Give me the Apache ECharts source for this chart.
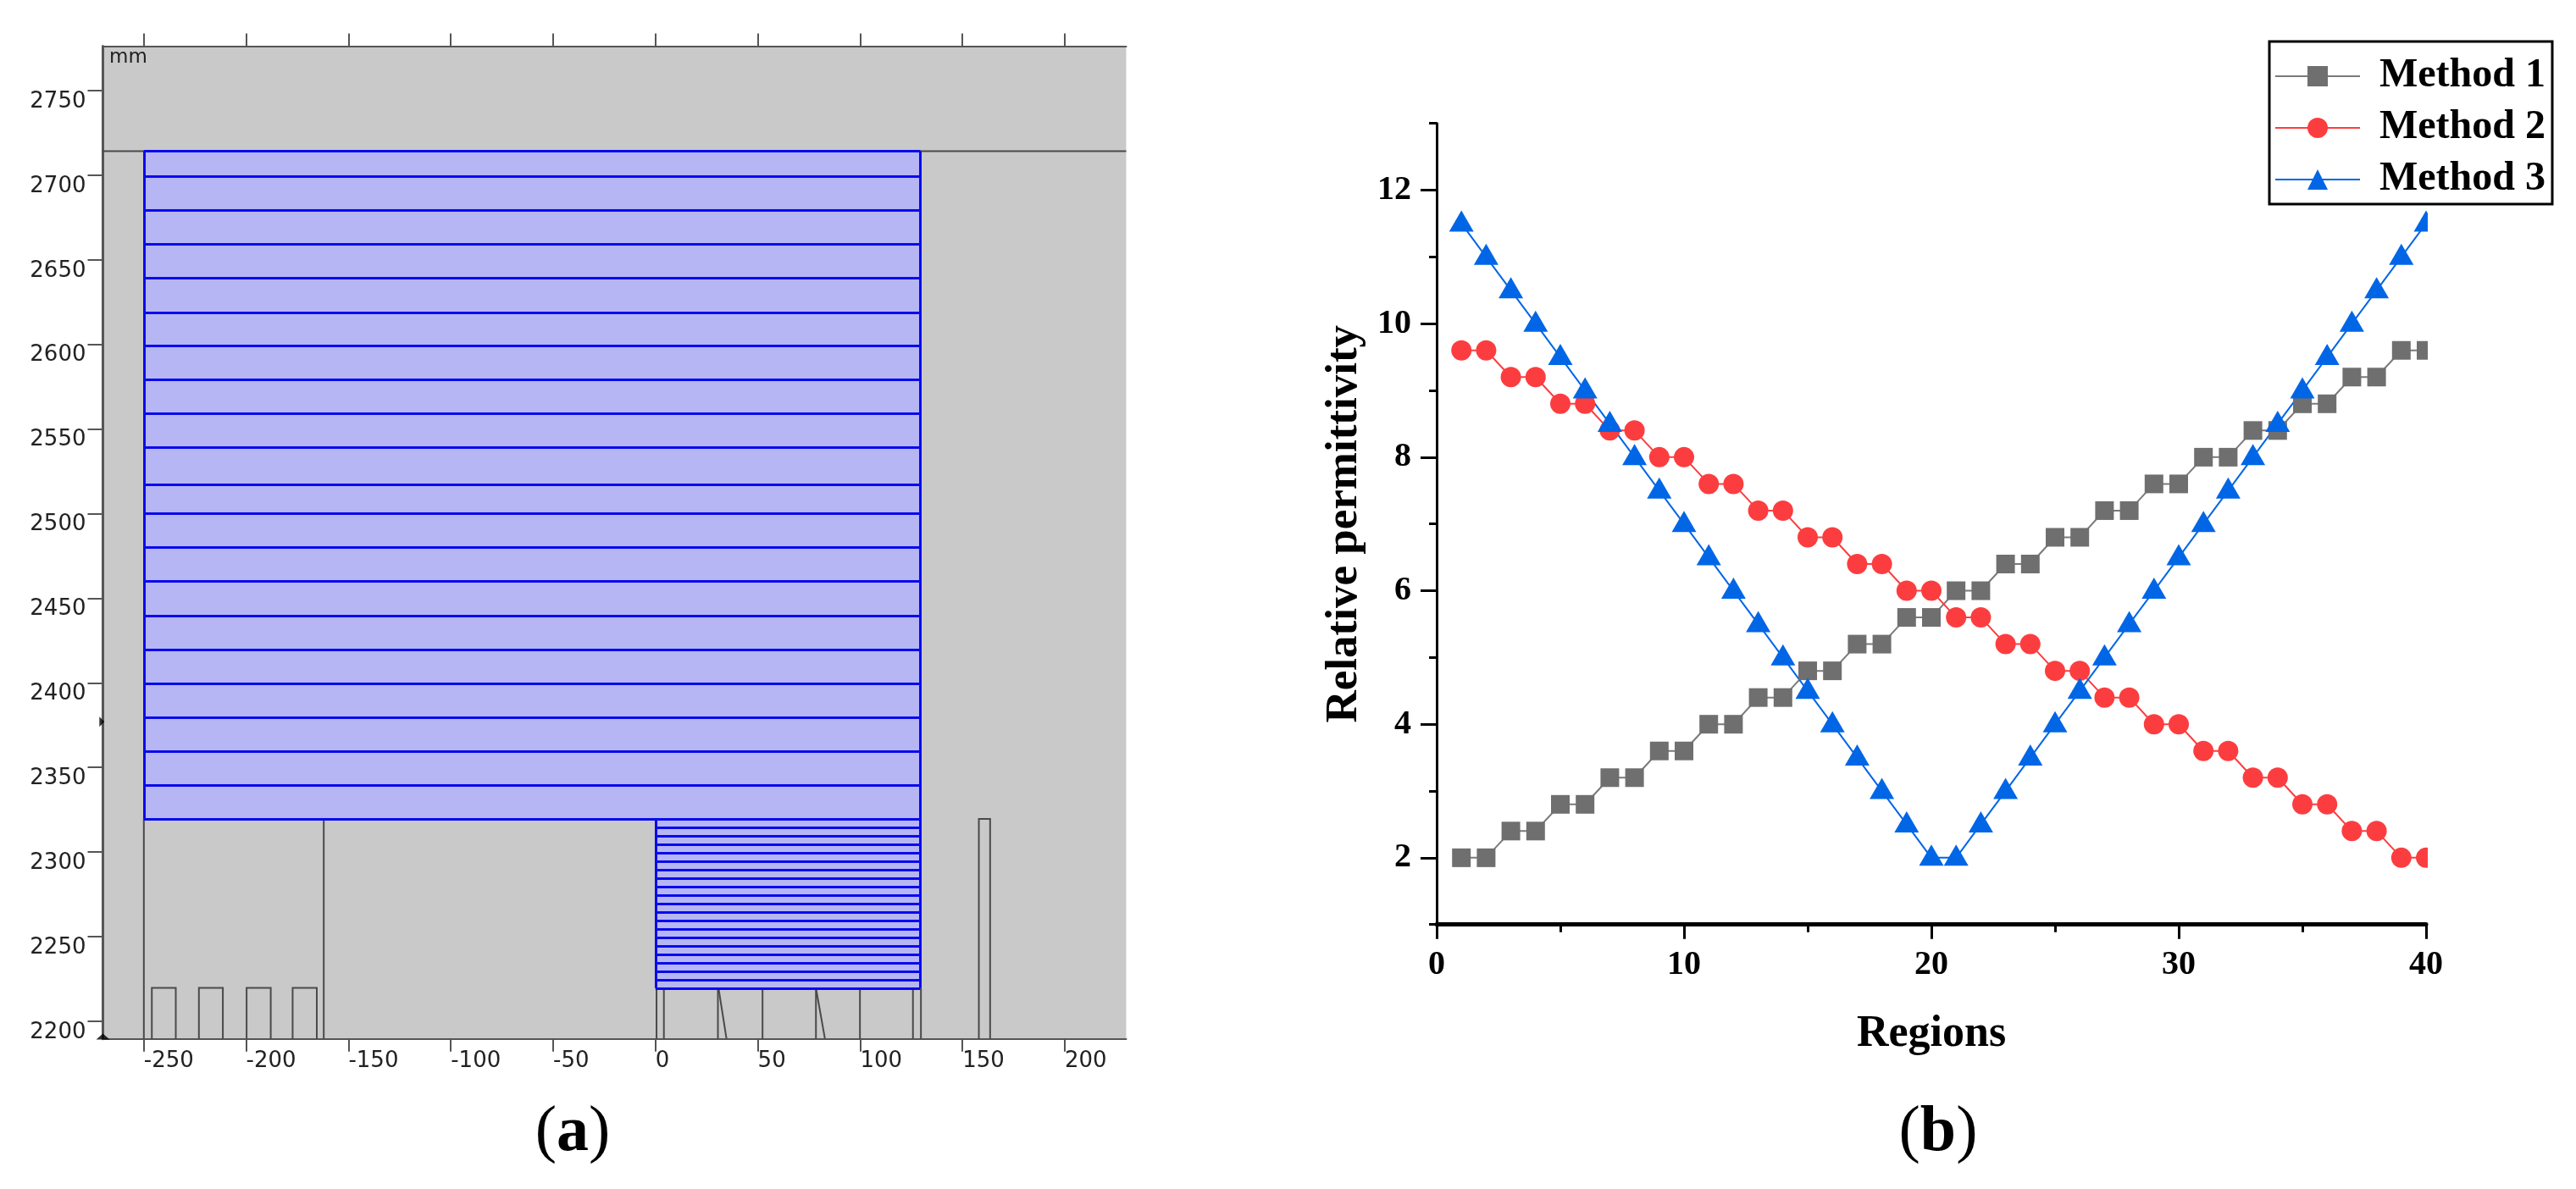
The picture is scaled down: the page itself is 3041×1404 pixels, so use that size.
<!DOCTYPE html>
<html>
<head>
    <meta charset="UTF-8">
    <script src="https://cdn.jsdelivr.net/npm/echarts@6/dist/echarts.min.js"></script>
    <style>
        html, body { margin: 0; padding: 0; background: #fff; }
        #main { width: 3041px; height: 1404px; }
    </style>
</head>
<body>
<div id="main"></div>
<script type="text/javascript">
    // panel (a): geometry in mm
    var geoXTicks = [-250, -200, -150, -100, -50, 0, 50, 100, 150, 200];
    var geoYTicks = [2200, 2250, 2300, 2350, 2400, 2450, 2500, 2550, 2600, 2650, 2700, 2750];
    var upperLayerY = [2714.2, 2699.5, 2679.4, 2659.3, 2639.1, 2619, 2599.2, 2579.2, 2559, 2539, 2517.2,
        2500.2, 2480.1, 2460, 2439.7, 2419.5, 2399.5, 2379.5, 2359.6, 2339.6, 2319.5];
    var lowerLayerY = [2319.6, 2314.6, 2309.6, 2304.5, 2299.5, 2294.5, 2289.5, 2284.6, 2279.6, 2274.5, 2269.5,
        2264.5, 2259.6, 2254.6, 2249.6, 2244.5, 2239.5, 2234.5, 2229.5, 2224.5, 2219.6];
    var blueRegions = [
        [-250, 2714.2, 129.4, 2319.6],
        [0, 2319.6, 129.4, 2219.6]
    ];
    var blueVerticals = [
        [[-250, 2714.2], [-250, 2319.6]],
        [[129.4, 2714.2], [129.4, 2219.6]],
        [[0.3, 2319.6], [0.3, 2219.6]]
    ];
    var outlineSegments = [
        [[-270, 2714.2], [230, 2714.2]],
        [[-250, 2319.6], [-250, 2189.6]],
        [[-162.1, 2319.6], [-162.1, 2189.6]],
        [[-246.1, 2189.6], [-246.1, 2219.7], [-234.4, 2219.7], [-234.4, 2189.6]],
        [[-223.1, 2189.6], [-223.1, 2219.7], [-211.4, 2219.7], [-211.4, 2189.6]],
        [[-199.8, 2189.6], [-199.8, 2219.7], [-188, 2219.7], [-188, 2189.6]],
        [[-177.3, 2189.6], [-177.3, 2219.7], [-165.5, 2219.7], [-165.5, 2189.6]],
        [[0.5, 2219.6], [0.5, 2189.6]],
        [[4.1, 2219.6], [4.1, 2189.6]],
        [[30.5, 2219.6], [30.5, 2189.6]],
        [[30.8, 2219.6], [34.7, 2189.6]],
        [[52.3, 2219.6], [52.3, 2189.6]],
        [[78.4, 2219.6], [78.4, 2189.6]],
        [[78.4, 2219.6], [82.8, 2189.6]],
        [[99.9, 2219.6], [99.9, 2189.6]],
        [[125.8, 2219.6], [125.8, 2189.6]],
        [[129.7, 2219.6], [129.7, 2189.6]],
        [[158, 2189.6], [158, 2319.6], [163.5, 2319.6], [163.5, 2189.6]]
    ];
    var axisArrowUp = [[-270, 2191]];
    var axisArrowRight = [[-270.5, 2377]];

    // panel (b): permittivity per region
    var regions = [1, 2, 3, 4, 5, 6, 7, 8, 9, 10, 11, 12, 13, 14, 15, 16, 17, 18, 19, 20,
        21, 22, 23, 24, 25, 26, 27, 28, 29, 30, 31, 32, 33, 34, 35, 36, 37, 38, 39, 40];
    var method1 = [2, 2, 2.4, 2.4, 2.8, 2.8, 3.2, 3.2, 3.6, 3.6, 4, 4, 4.4, 4.4, 4.8, 4.8, 5.2, 5.2, 5.6, 5.6,
        6, 6, 6.4, 6.4, 6.8, 6.8, 7.2, 7.2, 7.6, 7.6, 8, 8, 8.4, 8.4, 8.8, 8.8, 9.2, 9.2, 9.6, 9.6];
    var method2 = [9.6, 9.6, 9.2, 9.2, 8.8, 8.8, 8.4, 8.4, 8, 8, 7.6, 7.6, 7.2, 7.2, 6.8, 6.8, 6.4, 6.4, 6, 6,
        5.6, 5.6, 5.2, 5.2, 4.8, 4.8, 4.4, 4.4, 4, 4, 3.6, 3.6, 3.2, 3.2, 2.8, 2.8, 2.4, 2.4, 2, 2];
    var method3 = [11.5, 11, 10.5, 10, 9.5, 9, 8.5, 8, 7.5, 7, 6.5, 6, 5.5, 5, 4.5, 4, 3.5, 3, 2.5, 2,
        2, 2.5, 3, 3.5, 4, 4.5, 5, 5.5, 6, 6.5, 7, 7.5, 8, 8.5, 9, 9.5, 10, 10.5, 11, 11.5];
    var yMajorTicks = [2, 4, 6, 8, 10, 12];
    var yMinorTicks = [1, 3, 5, 7, 9, 11, 13];

    function zip(ys) {
        return regions.map(function (r, i) { return [r, ys[i]]; });
    }

    function segmentsOf(ys, x0, x1) {
        return ys.map(function (y) { return {coords: [[x0, y], [x1, y]]}; });
    }

    function asLines(list) {
        return list.map(function (pts) { return {coords: pts}; });
    }

    function renderRegion(params, api) {
        var a = api.coord([api.value(0), api.value(1)]);
        var b = api.coord([api.value(2), api.value(3)]);
        return {
            type: 'rect',
            shape: {x: a[0], y: a[1], width: b[0] - a[0], height: b[1] - a[1]},
            style: {fill: '#b6b6f4'}
        };
    }

    var geoLine = '#4a4a4a';
    var geoBlue = '#0a0aee';
    var geoFont = 'DejaVu Sans';
    var plotFont = 'Liberation Serif';

    var myChart = echarts.init(document.getElementById('main'), null, {renderer: 'canvas'});

    var option = {
        animation: false,
        backgroundColor: '#fff',
        grid: [
            {left: 121.5, top: 54.5, width: 1208, height: 1172.2, show: true, backgroundColor: '#c9c9c9', borderWidth: 0},
            {left: 1696, top: 145.7, width: 1168, height: 946, show: false}
        ],
        xAxis: [
            {
                gridIndex: 0, type: 'value', position: 'bottom', min: -270, max: 230,
                splitLine: {show: false},
                axisLine: {onZero: false, lineStyle: {color: '#555', width: 2}},
                axisTick: {customValues: geoXTicks, length: 15, lineStyle: {color: '#555', width: 2}},
                axisLabel: {
                    customValues: geoXTicks, align: 'left', margin: 14, hideOverlap: false,
                    fontFamily: geoFont, fontSize: 26, color: '#222'
                }
            },
            {
                gridIndex: 0, type: 'value', position: 'top', min: -270, max: 230,
                splitLine: {show: false},
                axisLine: {onZero: false, lineStyle: {color: '#555', width: 2}},
                axisTick: {customValues: geoXTicks, length: 15, lineStyle: {color: '#555', width: 2}},
                axisLabel: {show: false}
            },
            {
                gridIndex: 1, type: 'value', min: 0, max: 40, interval: 10,
                name: 'Regions', nameLocation: 'middle', nameGap: 104,
                nameTextStyle: {fontFamily: plotFont, fontWeight: 'bold', fontSize: 52, color: '#000'},
                splitLine: {show: false},
                axisLine: {onZero: false, lineStyle: {color: '#000', width: 5}},
                axisTick: {length: 17, lineStyle: {color: '#000', width: 3}},
                minorTick: {show: true, splitNumber: 2, length: 9, lineStyle: {color: '#000', width: 3}},
                axisLabel: {margin: 28, fontFamily: plotFont, fontWeight: 'bold', fontSize: 40, color: '#000'}
            }
        ],
        yAxis: [
            {
                gridIndex: 0, type: 'value', min: 2189.6, max: 2776.3,
                splitLine: {show: false},
                axisLine: {onZero: false, lineStyle: {color: '#555', width: 3}},
                axisTick: {customValues: geoYTicks, length: 18, lineStyle: {color: '#555', width: 2}},
                axisLabel: {
                    customValues: geoYTicks, verticalAlign: 'top', margin: 20, hideOverlap: false,
                    formatter: function (v) { return String(v); },
                    fontFamily: geoFont, fontSize: 26, color: '#222'
                }
            },
            {
                gridIndex: 1, type: 'value', min: 1, max: 13,
                name: 'Relative permittivity', nameLocation: 'middle', nameGap: 82, nameRotate: 90,
                nameTextStyle: {fontFamily: plotFont, fontWeight: 'bold', fontSize: 53, color: '#000'},
                splitLine: {show: false},
                axisLine: {onZero: false, lineStyle: {color: '#000', width: 3}},
                axisTick: {customValues: yMajorTicks, length: 19, lineStyle: {color: '#000', width: 3}},
                axisLabel: {
                    customValues: yMajorTicks, margin: 30, hideOverlap: false,
                    fontFamily: plotFont, fontWeight: 'bold', fontSize: 40, color: '#000'
                }
            },
            {
                gridIndex: 1, type: 'value', min: 1, max: 13, position: 'left',
                splitLine: {show: false},
                axisLine: {show: false, onZero: false},
                axisTick: {customValues: yMinorTicks, length: 9, lineStyle: {color: '#000', width: 3}},
                axisLabel: {show: false}
            }
        ],
        legend: {
            data: ['Method 1', 'Method 2', 'Method 3'],
            orient: 'vertical',
            left: 2679,
            top: 49,
            padding: [17, 8, 5, 6],
            itemWidth: 100,
            itemHeight: 30,
            itemGap: 13,
            backgroundColor: '#fff',
            borderColor: '#000',
            borderWidth: 3,
            borderRadius: 0,
            textStyle: {
                fontFamily: plotFont, fontWeight: 'bold', fontSize: 48, lineHeight: 30,
                color: '#000', padding: [0, 0, 0, 18]
            }
        },
        series: [
            {
                type: 'custom', xAxisIndex: 0, yAxisIndex: 0, coordinateSystem: 'cartesian2d',
                renderItem: renderRegion, data: blueRegions, silent: true, z: 1
            },
            {
                type: 'lines', coordinateSystem: 'cartesian2d', xAxisIndex: 0, yAxisIndex: 0, polyline: true,
                lineStyle: {color: geoLine, width: 2, opacity: 1}, data: asLines(outlineSegments), silent: true, z: 2
            },
            {
                type: 'lines', coordinateSystem: 'cartesian2d', xAxisIndex: 0, yAxisIndex: 0,
                lineStyle: {color: geoBlue, width: 3, opacity: 1},
                data: segmentsOf(upperLayerY, -250, 129.4).concat(segmentsOf(lowerLayerY, 0, 129.4)).concat(asLines(blueVerticals)),
                silent: true, z: 3
            },
            {
                type: 'scatter', xAxisIndex: 0, yAxisIndex: 0, data: axisArrowUp, symbol: 'triangle',
                symbolSize: [16, 7], itemStyle: {color: '#000'}, clip: false, silent: true, z: 4
            },
            {
                type: 'scatter', xAxisIndex: 0, yAxisIndex: 0, data: axisArrowRight, symbol: 'triangle',
                symbolRotate: -90, symbolSize: [12, 6], itemStyle: {color: '#000'}, clip: false, silent: true, z: 4
            },
            {
                name: 'Method 1', type: 'line', xAxisIndex: 2, yAxisIndex: 1, data: zip(method1),
                symbol: 'rect', symbolSize: 22, showAllSymbol: true,
                lineStyle: {color: '#7a7a7a', width: 2}, itemStyle: {color: '#6f6f6f'}
            },
            {
                name: 'Method 2', type: 'line', xAxisIndex: 2, yAxisIndex: 1, data: zip(method2),
                symbol: 'circle', symbolSize: 24, showAllSymbol: true,
                lineStyle: {color: '#fc3d3f', width: 2}, itemStyle: {color: '#fc3d3f'}
            },
            {
                name: 'Method 3', type: 'line', xAxisIndex: 2, yAxisIndex: 1, data: zip(method3),
                symbol: 'triangle', symbolSize: [29, 25], symbolOffset: [0, -3], showAllSymbol: true,
                lineStyle: {color: '#0066e6', width: 2}, itemStyle: {color: '#0066e6'}
            }
        ],
        graphic: {
            z: 50,
            elements: [
                // marks stop at the right end of the axis
                {type: 'rect', z: 50, shape: {x: 2866, y: 245, width: 20, height: 842}, style: {fill: '#fff'}, silent: true},
                {type: 'text', z: 50, x: 129, y: 57, style: {text: 'mm', font: '23px "DejaVu Sans"', fill: '#222'}, silent: true},
                {
                    type: 'text', x: 676, y: 1338, silent: true,
                    style: {
                        text: '{n|(}{b|a}{n|)}', align: 'center', verticalAlign: 'middle',
                        rich: {
                            n: {font: '76px "Liberation Serif"', fill: '#000'},
                            b: {font: 'bold 76px "Liberation Serif"', fill: '#000'}
                        }
                    }
                },
                {
                    type: 'text', x: 2288, y: 1338, silent: true,
                    style: {
                        text: '{n|(}{b|b}{n|)}', align: 'center', verticalAlign: 'middle',
                        rich: {
                            n: {font: '76px "Liberation Serif"', fill: '#000'},
                            b: {font: 'bold 76px "Liberation Serif"', fill: '#000'}
                        }
                    }
                }
            ]
        }
    };

    myChart.setOption(option);
</script>
</body>
</html>
